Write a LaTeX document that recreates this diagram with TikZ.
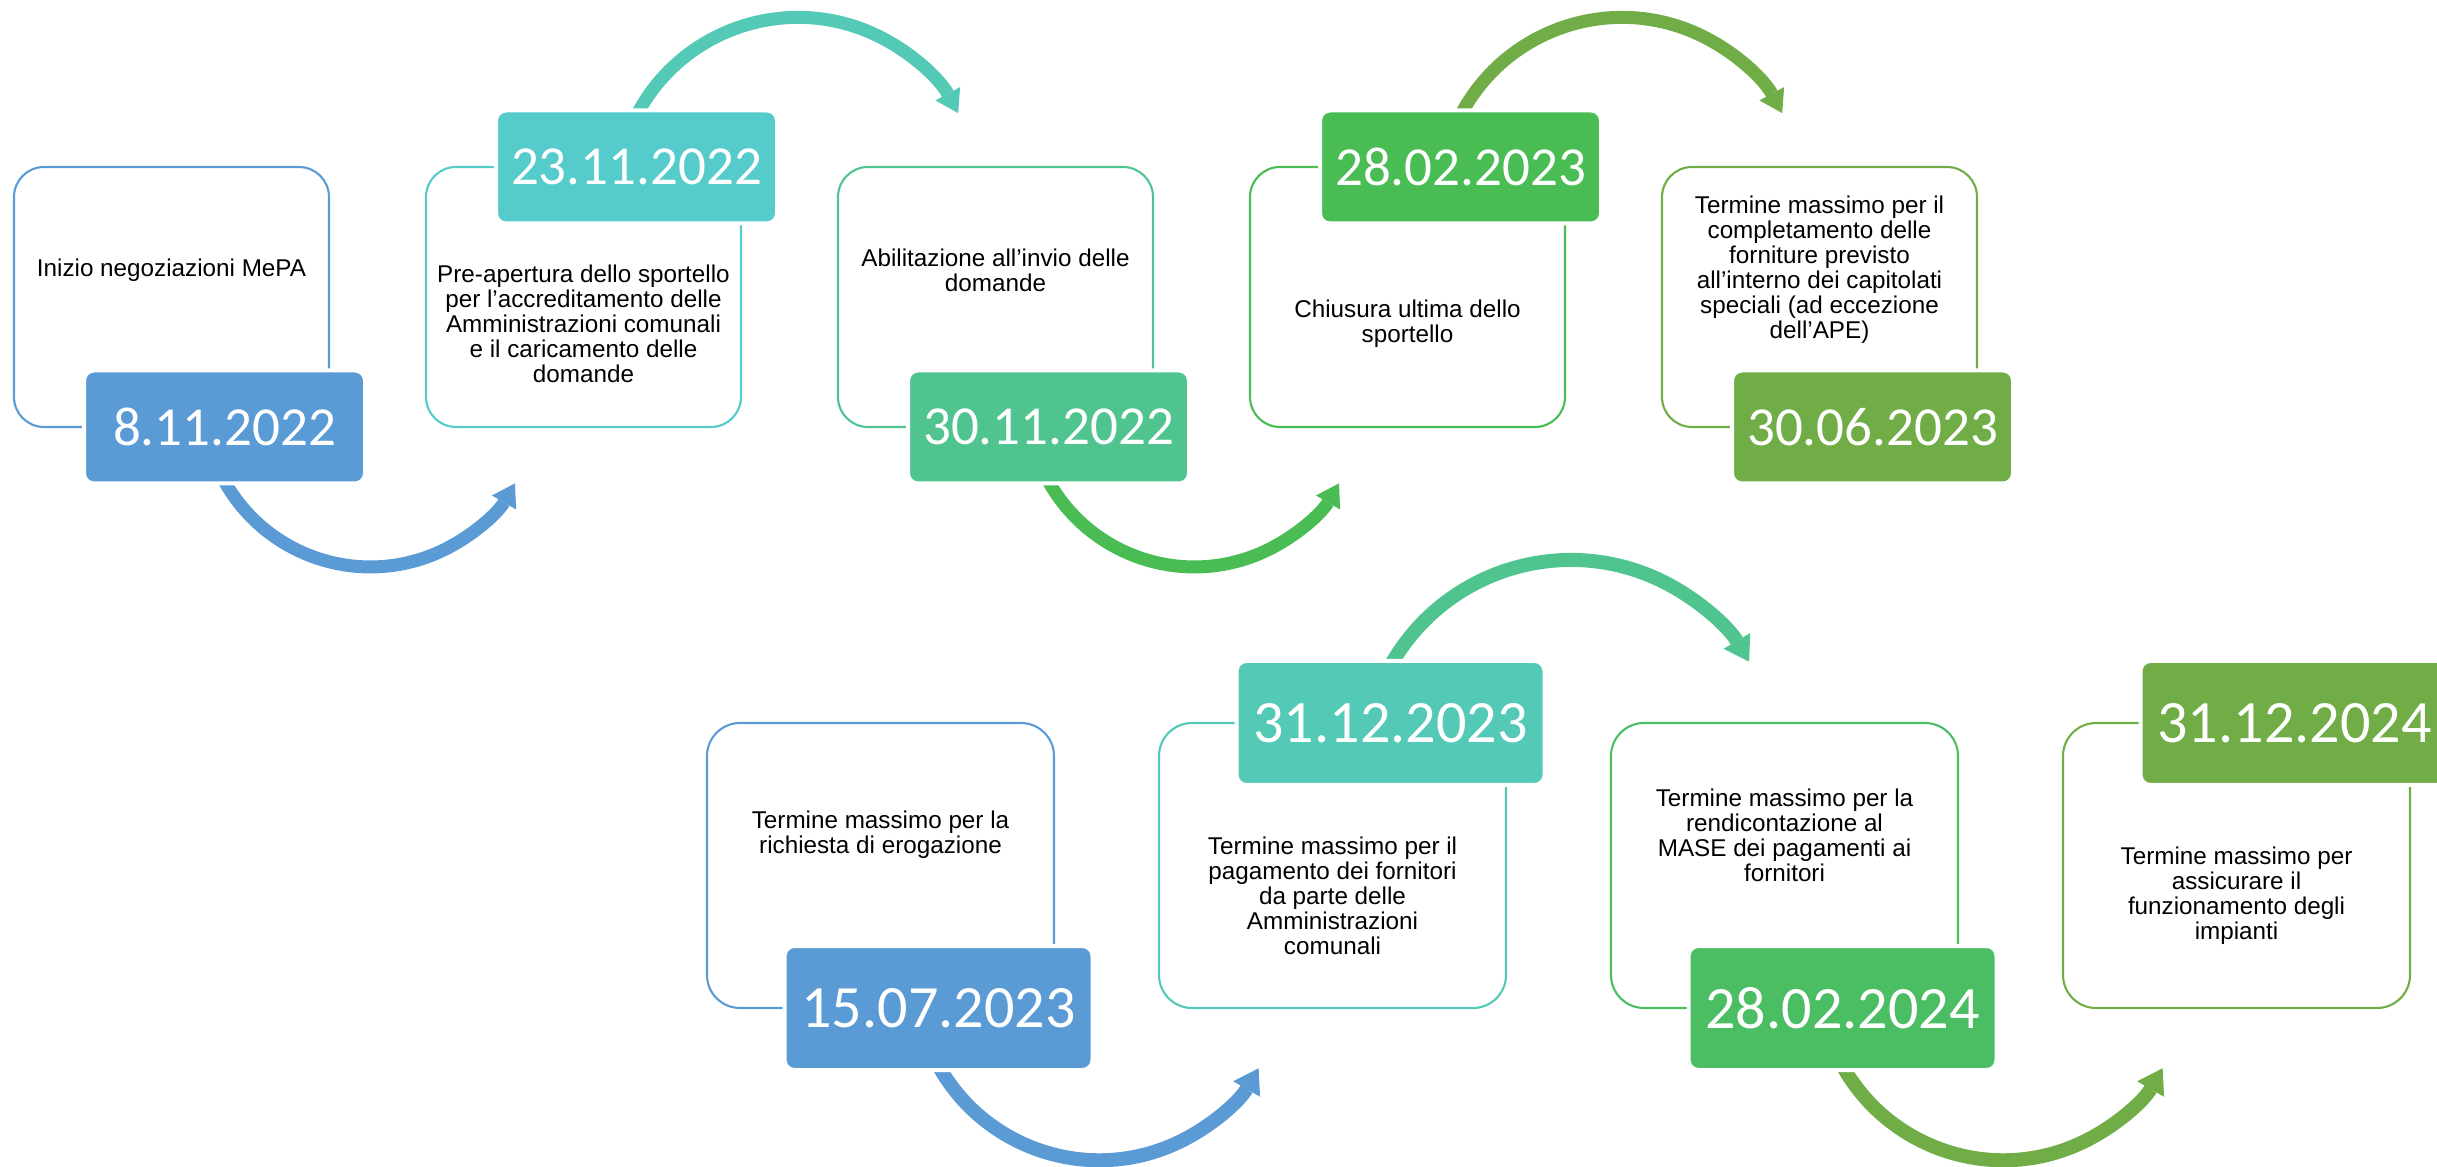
\documentclass[tikz,border=0pt]{standalone}
\usepackage{fontspec}
\setmainfont{Liberation Sans}
\newfontfamily\datumfont{Carlito}
\usetikzlibrary{positioning,arrows.meta,backgrounds}

\definecolor{blau}{HTML}{5B9BD5}
\definecolor{tuerkis}{HTML}{55CBCB}
\definecolor{petrol}{HTML}{53C9B6}
\definecolor{mint}{HTML}{4FC48F}
\definecolor{wiese}{HTML}{4BBE63}
\definecolor{gruen}{HTML}{49BC53}
\definecolor{oliv}{HTML}{70AD47}

\tikzset{
  kasten/.style={draw=#1, line width=0.6pt, rounded corners=0.3cm,
    minimum width=3.15cm, minimum height=2.6cm, inner sep=0pt, outer sep=0pt},
  kastengross/.style={kasten=#1, rounded corners=0.33cm,
    minimum width=3.47cm, minimum height=2.85cm},
  datum/.style={fill=#1, draw=white, line width=0.04cm, rounded corners=0.1cm,
    minimum width=2.81cm, minimum height=1.13cm, inner sep=0pt, outer sep=0pt,
    text=white, font=\datumfont\fontsize{15.65}{18}\selectfont},
  datumgross/.style={datum=#1, minimum width=3.08cm, minimum height=1.24cm,
    font=\datumfont\fontsize{17.1}{20}\selectfont},
  txt/.style={align=center, inner sep=0pt, font=\fontsize{6.9}{7.1}\selectfont},
  pfeil/.style={draw=#1, line width=0.13cm,
    -{Triangle[width=0.28cm, length=0.22cm, line width=0pt]}},
  pfeilgross/.style={pfeil=#1, line width=0.14cm,
    -{Triangle[width=0.31cm, length=0.24cm, line width=0pt]}}
}

\begin{document}
\begin{tikzpicture}
\def \ds {0.53};
\def \dg {0.58};
\useasboundingbox (0,0) rectangle (24.37,11.66);
% Kaesten oben
\node[kasten=blau] (b1) at (1.715,8.69) {};
\node[kasten=tuerkis, right=0.97cm of b1] (b2) {};
\node[kasten=mint, right=0.97cm of b2] (b3) {};
\node[kasten=gruen, right=0.97cm of b3] (b4) {};
\node[kasten=oliv, right=0.97cm of b4] (b5) {};

% Texte oben
\node[txt] (t1) at ([yshift=-1.03cm]b1.north) {Inizio negoziazioni MePA};
\node[txt] (t2) at ([yshift=1.03cm]b2.south) {Pre-apertura dello sportello\\per l’accreditamento delle\\Amministrazioni comunali\\e il caricamento delle\\domande};
\node[txt] (t3) at ([yshift=-1.03cm]b3.north) {Abilitazione all’invio delle\\domande};
\node[txt] (t4) at ([yshift=1.03cm]b4.south) {Chiusura ultima dello\\sportello};
\node[txt] (t5) at ([yshift=-1.03cm]b5.north) {Termine massimo per il\\completamento delle\\forniture previsto\\all’interno dei capitolati\\speciali (ad eccezione\\dell’APE)};

% Daten oben
\node[datum=blau] (d1) at ([xshift=\ds cm]b1.south) {8.11.2022};
\node[datum=tuerkis] (d2) at ([xshift=\ds cm]b2.north) {23.11.2022};
\node[datum=mint] (d3) at ([xshift=\ds cm]b3.south) {30.11.2022};
\node[datum=gruen] (d4) at ([xshift=\ds cm]b4.north) {28.02.2023};
\node[datum=oliv] (d5) at ([xshift=\ds cm]b5.south) {30.06.2023};

% Kaesten unten
\node[kastengross=blau] (b6) at (8.805,3.005) {};
\node[kastengross=petrol, right=1.05cm of b6] (b7) {};
\node[kastengross=wiese, right=1.05cm of b7] (b8) {};
\node[kastengross=oliv, right=1.05cm of b8] (b9) {};

% Texte unten
\node[txt] (t6) at ([yshift=-1.12cm]b6.north) {Termine massimo per la\\richiesta di erogazione};
\node[txt] (t7) at ([yshift=1.12cm]b7.south) {Termine massimo per il\\pagamento dei fornitori\\da parte delle\\Amministrazioni\\comunali};
\node[txt] (t8) at ([yshift=-1.12cm]b8.north) {Termine massimo per la\\rendicontazione al\\MASE dei pagamenti ai\\fornitori};
\node[txt] (t9) at ([yshift=1.12cm]b9.south) {Termine massimo per\\assicurare il\\funzionamento degli\\impianti};

% Daten unten
\node[datumgross=blau] (d6) at ([xshift=\dg cm]b6.south) {15.07.2023};
\node[datumgross=petrol] (d7) at ([xshift=\dg cm]b7.north) {31.12.2023};
\node[datumgross=wiese] (d8) at ([xshift=\dg cm]b8.south) {28.02.2024};
\node[datumgross=oliv] (d9) at ([xshift=\dg cm]b9.north) {31.12.2024};

% Boegen
\begin{scope}[on background layer]
\draw[pfeil=blau] ([shift={(1.35,0.13)}]d1.south west) arc[start angle=205, end angle=330, radius=1.67];
\draw[pfeil=petrol] ([shift={(1.37,-0.12)}]d2.north west) arc[start angle=155, end angle=28.3, radius=1.82];
\draw[pfeil=gruen] ([shift={(1.35,0.13)}]d3.south west) arc[start angle=205, end angle=330, radius=1.67];
\draw[pfeil=oliv] ([shift={(1.37,-0.12)}]d4.north west) arc[start angle=155, end angle=28.3, radius=1.82];
\draw[pfeilgross=blau] ([shift={(1.48,0.16)}]d6.south west) arc[start angle=205, end angle=330, radius=1.84];
\draw[pfeilgross=mint] ([shift={(1.50,-0.12)}]d7.north west) arc[start angle=153, end angle=30.6, radius=2.07];
\draw[pfeilgross=oliv] ([shift={(1.48,0.16)}]d8.south west) arc[start angle=205, end angle=330, radius=1.84];
\end{scope}
\end{tikzpicture}
\end{document}
